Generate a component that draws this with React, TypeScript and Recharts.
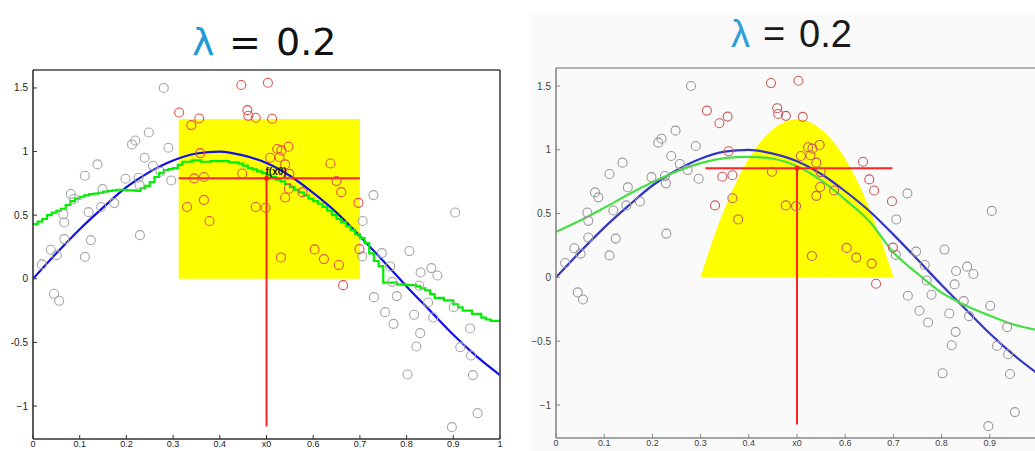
import React from "react";
import { ComposedChart, XAxis, YAxis, Line, Area, Scatter } from "recharts";

type Pt = { x: number; y: number };
const pts = (a: number[][]): Pt[] => a.map(([x, y]) => ({ x, y }));

// observations outside the window around x0
const grayPoints = pts([
  [0.019, 0.113], [0.038, 0.228], [0.045, -0.118], [0.051, 0.186], [0.056, -0.173],
  [0.065, 0.508], [0.067, 0.443], [0.067, 0.312], [0.081, 0.666], [0.088, 0.627],
  [0.111, 0.81], [0.111, 0.172], [0.119, 0.524], [0.124, 0.304], [0.138, 0.899],
  [0.146, 0.564], [0.149, 0.705], [0.174, 0.595], [0.198, 0.786], [0.212, 1.056],
  [0.219, 1.087], [0.226, 0.794], [0.228, 0.737], [0.229, 0.343], [0.239, 0.951],
  [0.248, 1.15], [0.257, 0.888], [0.273, 0.841], [0.28, 1.5], [0.29, 1.03],
  [0.296, 0.773], [0.705, 0.176], [0.706, 0.454], [0.729, 0.658], [0.73, -0.144],
  [0.747, 0.202], [0.754, -0.262], [0.765, 0.097], [0.769, -0.024], [0.772, -0.354],
  [0.779, -0.136], [0.802, -0.752], [0.806, 0.218], [0.816, -0.283], [0.821, -0.532],
  [0.827, -0.055], [0.829, -0.427], [0.83, 0.05], [0.846, -0.186], [0.853, 0.084],
  [0.857, -0.304], [0.866, 0.026], [0.897, -1.166], [0.901, -0.223], [0.904, 0.521],
  [0.915, -0.537], [0.936, -0.39], [0.938, -0.603], [0.942, -0.757], [0.952, -1.056],
]);

// observations inside the window
const redPoints = pts([
  [0.313, 1.307], [0.33, 0.564], [0.339, 1.208], [0.345, 0.789], [0.356, 1.26],
  [0.358, 0.988], [0.366, 0.8], [0.366, 0.62], [0.378, 0.454], [0.446, 1.523],
  [0.448, 0.828], [0.459, 1.326], [0.461, 1.281], [0.477, 1.266], [0.477, 0.564],
  [0.498, 0.558], [0.503, 1.541], [0.508, 0.951], [0.512, 1.258], [0.523, 1.02],
  [0.528, 0.957], [0.531, 0.168], [0.532, 1.009], [0.54, 0.899], [0.54, 0.639],
  [0.547, 1.038], [0.548, 0.708], [0.549, 0.825], [0.577, 0.681], [0.603, 0.231],
  [0.623, 0.155], [0.637, 0.906], [0.65, 0.768], [0.655, 0.108], [0.66, 0.681],
  [0.664, -0.05], [0.697, 0.597], [0.699, 0.233],
]);

const trueCurve = pts([
  [0, 0], [0.05, 0.2], [0.1, 0.39], [0.15, 0.56], [0.2, 0.72], [0.25, 0.84],
  [0.3, 0.93], [0.35, 0.985], [0.4, 1.0], [0.45, 0.97], [0.5, 0.91], [0.55, 0.81],
  [0.6, 0.675], [0.65, 0.52], [0.7, 0.335], [0.75, 0.14], [0.8, -0.06],
  [0.85, -0.25], [0.9, -0.44], [0.95, -0.61], [1, -0.757],
]);

// nearest-neighbour average (left)
const boxFit = pts([
  [0, 0.43], [0.01, 0.45], [0.02, 0.47], [0.03, 0.5], [0.04, 0.52], [0.05, 0.535],
  [0.06, 0.55], [0.07, 0.58], [0.08, 0.61], [0.09, 0.63], [0.1, 0.645], [0.11, 0.655],
  [0.12, 0.665], [0.13, 0.67], [0.14, 0.675], [0.15, 0.685], [0.16, 0.69], [0.17, 0.695],
  [0.18, 0.7], [0.2, 0.695], [0.22, 0.69], [0.23, 0.71], [0.24, 0.73], [0.25, 0.76],
  [0.26, 0.8], [0.27, 0.83], [0.28, 0.855], [0.29, 0.862], [0.3, 0.87], [0.31, 0.895],
  [0.32, 0.92], [0.34, 0.93], [0.36, 0.92], [0.38, 0.925], [0.4, 0.925], [0.42, 0.915],
  [0.44, 0.905], [0.45, 0.89], [0.46, 0.87], [0.47, 0.86], [0.48, 0.845], [0.49, 0.83],
  [0.5, 0.815], [0.51, 0.8], [0.52, 0.78], [0.53, 0.765], [0.54, 0.745], [0.55, 0.72],
  [0.56, 0.7], [0.57, 0.68], [0.58, 0.655], [0.59, 0.63], [0.6, 0.61], [0.61, 0.59],
  [0.62, 0.565], [0.63, 0.535], [0.64, 0.5], [0.65, 0.47], [0.66, 0.445], [0.67, 0.415],
  [0.68, 0.385], [0.69, 0.35], [0.7, 0.32], [0.71, 0.28], [0.72, 0.2], [0.73, 0.14],
  [0.74, 0.1], [0.75, -0.03], [0.78, -0.045], [0.8, -0.05], [0.82, -0.06], [0.83, -0.075],
  [0.84, -0.09], [0.85, -0.12], [0.86, -0.15], [0.88, -0.17], [0.9, -0.2], [0.91, -0.225],
  [0.92, -0.25], [0.94, -0.275], [0.96, -0.305], [0.97, -0.32], [0.98, -0.33], [1, -0.335],
]);

// Epanechnikov kernel fit (right)
const kernelFit = pts([
  [0, 0.356], [0.05, 0.445], [0.1, 0.545], [0.15, 0.65], [0.2, 0.745], [0.25, 0.83],
  [0.3, 0.895], [0.35, 0.935], [0.4, 0.945], [0.45, 0.93], [0.5, 0.87], [0.55, 0.76],
  [0.6, 0.61], [0.65, 0.44], [0.7, 0.195], [0.75, 0.03], [0.8, -0.12], [0.85, -0.22],
  [0.9, -0.3], [0.95, -0.37], [1, -0.415],
]);

const boxWindow = pts([[0.312, 1.255], [0.7, 1.255]]);
const kernelWindow = pts([
  [0.3, 0], [0.31, 0.12], [0.325, 0.29], [0.35, 0.54], [0.375, 0.755], [0.4, 0.93],
  [0.425, 1.065], [0.45, 1.16], [0.475, 1.22], [0.5, 1.24], [0.525, 1.22], [0.55, 1.16],
  [0.575, 1.065], [0.6, 0.93], [0.625, 0.755], [0.65, 0.54], [0.675, 0.29], [0.69, 0.12],
  [0.7, 0],
]);

const boxEstimate = pts([[0.312, 0.79], [0.7, 0.79]]);
const boxDrop = pts([[0.5, 0.79], [0.5, -1.16]]);
const kernelEstimate = pts([[0.31, 0.856], [0.698, 0.856]]);
const kernelDrop = pts([[0.5, 0.856], [0.5, -1.154]]);

const xTicks = [0, 0.1, 0.2, 0.3, 0.4, 0.5, 0.6, 0.7, 0.8, 0.9, 1];
const yTicks = [-1, -0.5, 0, 0.5, 1, 1.5];

const fmtX = (v: number) => (v === 0.5 ? "x0" : String(v));

const ring = (stroke: string) => (p: any) =>
  <circle cx={p.cx} cy={p.cy} r={4.5} fill="none" stroke={stroke} strokeWidth={1.1} />;

function Panel(props: any) {
  const { left, width, top, rightPad, plotBottom, window, fit, fitType, estimate, drop, c, minus, label } = props;
  const fmtY = (v: number) => (v === -1 || (minus && v < 0) ? "\u2212" + String(-v) : String(v));
  const tickFont = { fontSize: 10, fill: c.text, fontFamily: "Liberation Sans, Arial, sans-serif" };
  const mark = (p: any) => (
    <g>
      <circle cx={p.cx} cy={p.cy} r={2.5} fill="#ff1a1a" />
      {label && (
        <text x={p.cx - 1} y={p.cy - 3} fontSize={10} fontWeight="bold" fontFamily="Liberation Sans, Arial" fill="#111">
          f(x0)
        </text>
      )}
    </g>
  );
  return (
    <div style={{ position: "absolute", left, top: 0 }}>
      <ComposedChart width={width} height={451} margin={{ top: top - 1, right: rightPad, bottom: 0, left: left === 0 ? 3 : 6 }}>
        <XAxis type="number" dataKey="x" domain={[0, 1]} ticks={xTicks} interval={0} allowDataOverflow
          tickSize={-4} tickMargin={6} height={451 - plotBottom} tickFormatter={fmtX}
          axisLine={{ stroke: c.axis, strokeWidth: 1.6 }} tickLine={{ stroke: c.axis }}
          tick={{ ...tickFont, fontSize: 9 }} />
        <XAxis xAxisId="top" orientation="top" type="number" domain={[0, 1]} ticks={xTicks} interval={0}
          allowDataOverflow tickSize={-4} height={1} tick={false}
          axisLine={{ stroke: c.axis2, strokeWidth: 1.6 }} tickLine={{ stroke: c.axis2 }} />
        <YAxis type="number" dataKey="y" domain={[-1.259, 1.641]} ticks={yTicks} interval={0} allowDataOverflow
          width={30} tickSize={-4} tickMargin={9} tickFormatter={fmtY}
          axisLine={{ stroke: c.axis, strokeWidth: 1.6 }} tickLine={{ stroke: c.axis }} tick={tickFont} />
        <YAxis yAxisId="right" orientation="right" type="number" domain={[-1.259, 1.641]} ticks={yTicks}
          interval={0} allowDataOverflow width={1} tickSize={-4} tick={false}
          axisLine={{ stroke: c.axis2, strokeWidth: 1.6 }} tickLine={{ stroke: c.axis2 }} />
        <Area data={window} dataKey="y" type={fitType === "step" ? "linear" : "monotone"} baseValue={0}
          fill="#ffff00" fillOpacity={1} stroke="none" isAnimationActive={false} />
        <Line data={trueCurve} dataKey="y" type="monotone" stroke={c.blue} strokeWidth={2.2}
          dot={false} activeDot={false} isAnimationActive={false} />
        <Line data={fit} dataKey="y" type={fitType === "step" ? "stepAfter" : "monotone"} stroke={c.green}
          strokeWidth={2.2} dot={false} activeDot={false} isAnimationActive={false} />
        <Line data={estimate} dataKey="y" type="linear" stroke="#ff2222" strokeWidth={2}
          dot={false} activeDot={false} isAnimationActive={false} />
        <Line data={drop} dataKey="y" type="linear" stroke="#ff2222" strokeWidth={2}
          dot={false} activeDot={false} isAnimationActive={false} />
        <Scatter data={grayPoints} shape={ring(c.gray)} isAnimationActive={false} />
        <Scatter data={redPoints} shape={ring(c.red)} isAnimationActive={false} />
        <Scatter data={[{ x: 0.5, y: estimate[0].y }]} shape={mark} isAnimationActive={false} />
      </ComposedChart>
    </div>
  );
}

export default function App() {
  return (
    <div style={{ position: "fixed", left: 0, top: 0, width: 1035, height: 451, overflow: "hidden", background: "#fff" }}>
      <div style={{ position: "absolute", left: 531, top: 14, width: 504, height: 437, background: "#fafafa" }} />
      <Panel left={0} width={515} top={70} rightPad={14} plotBottom={439}
        window={boxWindow} fit={boxFit} fitType="step" estimate={boxEstimate} drop={boxDrop} label
        c={{ axis: "#333", axis2: "#444", text: "#222", blue: "#1010e8", green: "#00ee00", gray: "#a6a6a6", red: "#e4504a" }} />
      <Panel left={520} width={530} top={68} rightPad={11} plotBottom={438}
        window={kernelWindow} fit={kernelFit} fitType="smooth" estimate={kernelEstimate} drop={kernelDrop} minus
        c={{ axis: "#888", axis2: "#999", text: "#444", blue: "#3535c4", green: "#44e044", gray: "#9a9a9a", red: "#c95a5a" }} />
      <svg width={1035} height={451} style={{ position: "absolute", left: 0, top: 0, pointerEvents: "none" }}>
        <text y={55} fontFamily="DejaVu Sans" fontSize={38}>
          <tspan x={192} fill="#1f9ad6">λ</tspan>
          <tspan x={229} fill="#111">=</tspan>
          <tspan x={276} fill="#111">0.2</tspan>
        </text>
        <text y={47} fontFamily="Liberation Sans" fontSize={38}>
          <tspan x={731} fill="#2c9ed8">λ</tspan>
          <tspan x={763} fill="#1a1a1a">=</tspan>
          <tspan x={799} fill="#1a1a1a">0.2</tspan>
        </text>
      </svg>
    </div>
  );
}
